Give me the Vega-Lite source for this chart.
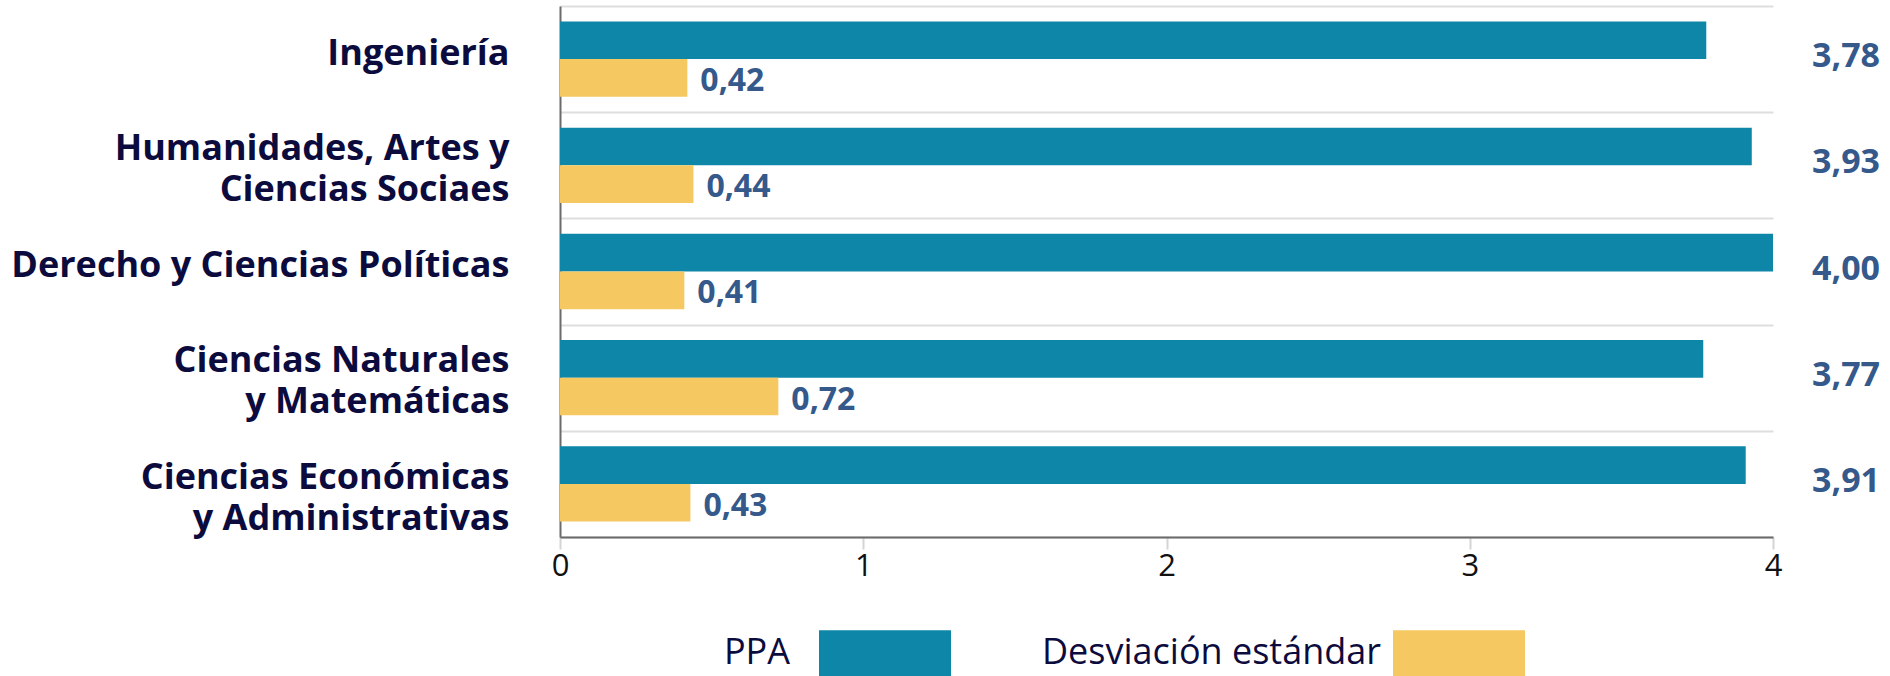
{
  "$schema": "https://vega.github.io/schema/vega-lite/v6.json",
  "autosize": {"type": "none"},
  "padding": {"left": 560, "top": 6, "right": 117, "bottom": 139},
  "width": 1213,
  "height": 531,
  "background": "white",
  "config": {
    "view": {"stroke": null},
    "locale": {"number": {"decimal": ",", "thousands": ".", "grouping": [3], "currency": ["", ""]}},
    "font": "Open Sans"
  },
  "data": {
    "values": [
      {"area": "Ingeniería", "serie": "PPA", "valor": 3.78},
      {"area": "Ingeniería", "serie": "Desviación estándar", "valor": 0.42},
      {"area": "Humanidades, Artes y|Ciencias Sociaes", "serie": "PPA", "valor": 3.93},
      {"area": "Humanidades, Artes y|Ciencias Sociaes", "serie": "Desviación estándar", "valor": 0.44},
      {"area": "Derecho y Ciencias Políticas", "serie": "PPA", "valor": 4.00},
      {"area": "Derecho y Ciencias Políticas", "serie": "Desviación estándar", "valor": 0.41},
      {"area": "Ciencias Naturales|y Matemáticas", "serie": "PPA", "valor": 3.77},
      {"area": "Ciencias Naturales|y Matemáticas", "serie": "Desviación estándar", "valor": 0.72},
      {"area": "Ciencias Económicas|y Administrativas", "serie": "PPA", "valor": 3.91},
      {"area": "Ciencias Económicas|y Administrativas", "serie": "Desviación estándar", "valor": 0.43}
    ]
  },
  "encoding": {
    "y": {
      "field": "area",
      "type": "nominal",
      "sort": null,
      "scale": {"paddingInner": 0, "paddingOuter": 0},
      "axis": {
        "title": null,
        "labelExpr": "datum.value ? split(datum.value, '|') : ''",
        "labelFont": "Open Sans",
        "labelFontWeight": "bold",
        "labelFontSize": 36,
        "labelColor": "#0c0b3e",
        "labelLineHeight": 41,
        "labelPadding": 51,
        "labelLimit": 0,
        "labelOffset": {
          "condition": [
            {"test": "datum.value && indexof(datum.value, 'Económicas') >= 0", "value": -6},
            {"test": "datum.value && indexof(datum.value, '|') >= 0", "value": -17}
          ],
          "value": -6
        },
        "ticks": false,
        "domainColor": "#6b6b6b",
        "domainWidth": 2,
        "grid": true,
        "gridColor": "#dedede",
        "gridWidth": 2,
        "tickBand": "extent"
      }
    }
  },
  "layer": [
    {
      "mark": {"type": "bar", "cornerRadius": 0},
      "encoding": {
        "x": {
          "field": "valor",
          "type": "quantitative",
          "scale": {"domain": [0, 4], "nice": false},
          "axis": {
            "title": null,
            "values": [0, 1, 2, 3, 4],
            "format": "d",
            "grid": false,
            "labelFlush": false,
            "domainColor": "#6b6b6b",
            "domainWidth": 2,
            "tickColor": "#d4d4d4",
            "tickWidth": 2,
            "tickSize": 12,
            "labelFont": "Open Sans",
            "labelFontSize": 31,
            "labelColor": "#111111",
            "labelPadding": 2
          }
        },
        "yOffset": {
          "field": "serie",
          "type": "nominal",
          "sort": ["PPA", "Desviación estándar"],
          "scale": {"paddingInner": 0, "paddingOuter": 0.41}
        },
        "color": {
          "field": "serie",
          "type": "nominal",
          "sort": ["PPA", "Desviación estándar"],
          "scale": {"domain": ["PPA", "Desviación estándar"], "range": ["#0e86a7", "#f6c862"]},
          "legend": {
            "title": null,
            "orient": "none",
            "legendX": 259,
            "legendY": 581,
            "direction": "horizontal",
            "columns": 2,
            "padding": 0,
            "columnPadding": 90,
            "symbolType": "M-1,-0.35L1,-0.35L1,0.35L-1,0.35Z",
            "symbolSize": 17424,
            "symbolStrokeWidth": 0,
            "symbolOpacity": 1,
            "symbolOffset": 0,
            "labelAlign": "right",
            "labelOffset": {"expr": "datum && datum.label === 'PPA' ? -161 : -144"},
            "labelFont": "Open Sans",
            "labelFontSize": 36,
            "labelColor": "#0c0b3e",
            "labelLimit": 0
          }
        }
      }
    },
    {
      "transform": [{"filter": "datum.serie === 'Desviación estándar'"}],
      "mark": {"type": "text", "align": "left", "baseline": "middle", "dx": 13, "dy": 3, "font": "Open Sans", "fontWeight": "bold", "fontSize": 32, "color": "#34598a"},
      "encoding": {
        "x": {"field": "valor", "type": "quantitative"},
        "yOffset": {"field": "serie", "type": "nominal", "sort": ["PPA", "Desviación estándar"]},
        "text": {"field": "valor", "type": "quantitative", "format": ".2f"}
      }
    },
    {
      "transform": [{"filter": "datum.serie === 'PPA'"}],
      "mark": {"type": "text", "align": "left", "baseline": "middle", "dx": 39, "dy": -2, "font": "Open Sans", "fontWeight": "bold", "fontSize": 34, "color": "#34598a"},
      "encoding": {
        "x": {"datum": 4},
        "text": {"field": "valor", "type": "quantitative", "format": ".2f"}
      }
    }
  ]
}
